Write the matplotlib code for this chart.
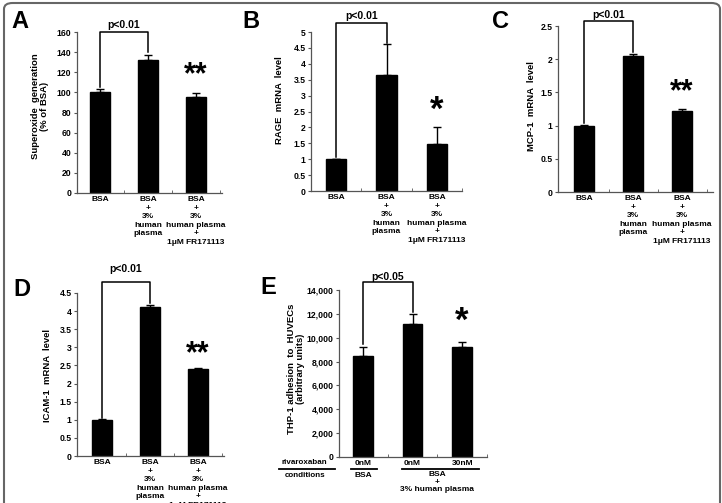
import matplotlib
matplotlib.use("Agg")
import matplotlib.pyplot as plt
from matplotlib.patches import FancyBboxPatch
import matplotlib.transforms as mtransforms


plt.rcParams["font.family"] = ["Liberation Sans", "DejaVu Sans"]
plt.rcParams["font.weight"] = "bold"

W, H = 722, 503

# -----------------------------
# Data
# -----------------------------

group_labels = [
    "BSA",
    "BSA\n+\n3%\nhuman\nplasma",
    "BSA\n+\n3%\nhuman plasma\n+\n1\u03bcM FR171113",
]

a_values = [100, 132, 95]
a_errors = [3.5, 5, 4]

b_values = [1.0, 3.64, 1.47]
b_errors = [0.02, 0.97, 0.54]

c_values = [1.0, 2.05, 1.22]
c_errors = [0.01, 0.03, 0.03]

d_values = [1.0, 4.12, 2.39]
d_errors = [0.02, 0.06, 0.04]

e_values = [8490, 11150, 9240]
e_errors = [750, 840, 360]
e_doses = ["0nM", "0nM", "30nM"]


def px(x, y):
    return x / W, 1 - y / H


def make_axes(fig, left, right, top, bottom):
    x0, y0 = px(left, bottom)
    return fig.add_axes([x0, y0, (right - left) / W, (bottom - top) / H])


def draw_bars(ax, values, errors, xlim, ylim, yticks, ticklabels):

    x = range(len(values))

    ax.bar(x, values, width=0.4, color="black", edgecolor="black")

    ax.errorbar(
        x, values,
        yerr=[[0] * len(errors), errors],
        fmt="none", ecolor="black", elinewidth=1, capsize=3.2, capthick=1
    )

    ax.set_xlim(*xlim)
    ax.set_ylim(*ylim)
    ax.set_yticks(yticks)
    ax.set_yticklabels(ticklabels)

    ax.set_xticks([0, 1, 2])
    ax.set_xticks([0.5, 1.5, 2.5], minor=True)
    ax.tick_params(axis="x", which="major", length=0, pad=2.5)
    ax.tick_params(axis="x", which="minor", length=2, direction="in", color="#555555")
    ax.tick_params(axis="y", length=2.5, width=0.8, pad=1.5, labelsize=6.2, color="#555555")

    for side in ["top", "right"]:
        ax.spines[side].set_visible(False)
    for side in ["left", "bottom"]:
        ax.spines[side].set_linewidth(0.9)
        ax.spines[side].set_color("#555555")


def draw_bracket(ax, left_bottom, right_bottom, top, text, text_y):

    ax.plot(
        [0, 0, 1, 1],
        [left_bottom, top, top, right_bottom],
        color="black", linewidth=1.1, clip_on=False
    )

    ax.text(0.5, text_y, text, ha="center", va="center", fontsize=7.5, fontweight="bold")


fig = plt.figure(figsize=(W / 100, H / 100), dpi=100)

border = FancyBboxPatch(
    (4 / W, -0.05), 716 / W, 1 - 3 / H + 0.05,
    boxstyle="round,pad=0,rounding_size=0.012",
    transform=fig.transFigure,
    facecolor="none", edgecolor="#666666", linewidth=1.5
)
fig.patches.append(border)


# -----------------------------
# Panels A-D
# -----------------------------

ax_a = make_axes(fig, 77, 222, 32, 193)
draw_bars(ax_a, a_values, a_errors, (-0.48, 2.54), (0, 160),
          range(0, 161, 20), [str(v) for v in range(0, 161, 20)])
draw_bracket(ax_a, 105, 140, 160, "p<0.01", 167)
ax_a.text(2, 117, "**", ha="center", va="center", fontsize=22)

ax_b = make_axes(fig, 311, 462, 32, 191)
b_ticks = [0, 0.5, 1, 1.5, 2, 2.5, 3, 3.5, 4, 4.5, 5]
draw_bars(ax_b, b_values, b_errors, (-0.5, 2.5), (0, 5),
          b_ticks, ["%g" % v for v in b_ticks])
draw_bracket(ax_b, 1.07, 4.65, 5.28, "p<0.01", 5.5)
ax_b.text(2, 2.55, "*", ha="center", va="center", fontsize=25)

ax_c = make_axes(fig, 558, 713, 26, 192)
c_ticks = [0, 0.5, 1, 1.5, 2, 2.5]
draw_bars(ax_c, c_values, c_errors, (-0.53, 2.63), (0, 2.5),
          c_ticks, ["%g" % v for v in c_ticks])
draw_bracket(ax_c, 1.04, 2.11, 2.575, "p<0.01", 2.67)
ax_c.text(2, 1.5, "**", ha="center", va="center", fontsize=22)

ax_d = make_axes(fig, 77, 224, 293, 456)
d_ticks = [0, 0.5, 1, 1.5, 2, 2.5, 3, 3.5, 4, 4.5]
draw_bars(ax_d, d_values, d_errors, (-0.52, 2.54), (0, 4.5),
          d_ticks, ["%g" % v for v in d_ticks])
draw_bracket(ax_d, 1.05, 4.23, 4.8, "p<0.01", 5.17)
ax_d.text(2, 2.82, "**", ha="center", va="center", fontsize=22)

for ax in [ax_a, ax_b, ax_c, ax_d]:
    ax.set_xticklabels(group_labels, fontsize=6, linespacing=1.3, va="top")


# -----------------------------
# Panel E
# -----------------------------

ax_e = make_axes(fig, 339, 487, 290, 457)
e_ticks = list(range(0, 14001, 2000))
draw_bars(ax_e, e_values, e_errors, (-0.48, 2.5), (0, 14000),
          e_ticks, ["{:,}".format(v) for v in e_ticks])
draw_bracket(ax_e, 9470, 12150, 14670, "p<0.05", 15090)
ax_e.text(2, 11350, "*", ha="center", va="center", fontsize=25)
ax_e.set_xticklabels(e_doses, fontsize=6)

trans = mtransforms.blended_transform_factory(ax_e.transData, ax_e.transAxes)

for x0, x1 in [(-1.68, -0.57), (-0.24, 0.28), (0.79, 2.34)]:
    ax_e.plot([x0, x1], [-0.072, -0.072], color="black", linewidth=1.3,
              transform=trans, clip_on=False)

ax_e.text(-1.17, -0.035, "rivaroxaban", transform=trans, ha="center", va="center", fontsize=5.8)
ax_e.text(-1.17, -0.108, "conditions", transform=trans, ha="center", va="center", fontsize=5.8)
ax_e.text(0, -0.108, "BSA", transform=trans, ha="center", va="center", fontsize=6)
ax_e.text(1.5, -0.085, "BSA\n+\n3% human plasma", transform=trans,
          ha="center", va="top", fontsize=6, linespacing=1.1)


# -----------------------------
# Axis titles and panel letters
# -----------------------------

y_titles = [
    (40, 106, "Superoxide  generation\n(% of BSA)"),
    (280, 100, "RAGE  mRNA  level"),
    (532, 106, "MCP-1  mRNA  level"),
    (47, 375, "ICAM-1  mRNA  level"),
    (296, 369, "THP-1 adhesion  to  HUVECs\n(arbitrary units)"),
]

for x, y, text in y_titles:
    fx, fy = px(x, y)
    fig.text(fx, fy, text, rotation=90, ha="center", va="center",
             fontsize=6.8, fontweight="bold", linespacing=1.1)

letters = [(20, 21, "A"), (251, 21, "B"), (500, 21, "C"), (22, 289, "D"), (268, 287, "E")]

for x, y, letter in letters:
    fx, fy = px(x, y)
    fig.text(fx, fy, letter, ha="center", va="center", fontsize=17, fontweight="bold")

plt.savefig("out.png", dpi=100)
plt.close()
